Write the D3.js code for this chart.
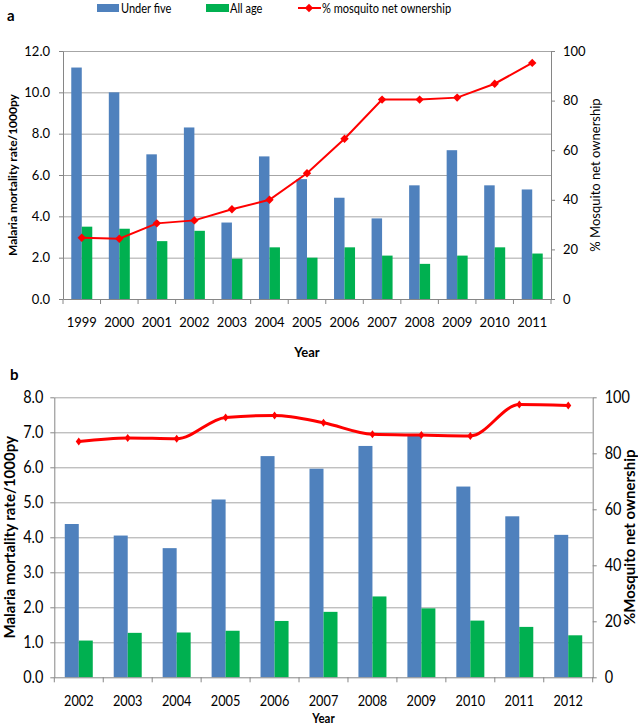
<!DOCTYPE html>
<html><head><meta charset="utf-8">
<script src="https://cdn.jsdelivr.net/npm/d3@7"></script>
<style>
body{margin:0;background:#fff}
svg{display:block}
text{font-family:Lato,"Open Sans",sans-serif;fill:#000}
</style>
</head><body>
<svg id="c" width="638" height="728"></svg>
<script>
// ---- Panel a data ----
const yearsA = ["1999","2000","2001","2002","2003","2004","2005","2006","2007","2008","2009","2010","2011"];
const underFiveA = [11.2,10.0,7.0,8.3,3.7,6.9,5.8,4.9,3.9,5.5,7.2,5.5,5.3];
const allAgeA = [3.5,3.4,2.8,3.3,1.95,2.5,2.0,2.5,2.1,1.7,2.1,2.5,2.2];
const netA = [24.7,24.3,30.5,31.7,36.2,40.0,50.7,64.6,80.4,80.4,81.2,86.8,95.2];
const leftTicksA = [0,2,4,6,8,10,12];
const rightTicksA = [0,20,40,60,80,100];

// ---- Panel b data ----
const yearsB = ["2002","2003","2004","2005","2006","2007","2008","2009","2010","2011","2012"];
const underFiveB = [4.38,4.05,3.69,5.08,6.32,5.96,6.61,6.93,5.45,4.6,4.07];
const allAgeB = [1.05,1.27,1.28,1.33,1.61,1.87,2.31,1.97,1.62,1.44,1.2];
const netB = [84.2,85.5,85.2,92.8,93.5,90.9,86.8,86.5,86.2,97.4,97.1];
const leftTicksB = [0,1,2,3,4,5,6,7,8];
const rightTicksB = [0,20,40,60,80,100];

const legendLabels = ["Under five","All age","% mosquito net ownership"];

const BLUE="#4F81BD", GREEN="#00B050", RED="#FF0000", GRID="#a6a6a6", AXIS="#868686";
const svg = d3.select("#c");

function squeeze(sel, sx){
  sel.each(function(){
    const t=d3.select(this);
    const x=+t.attr("x")||0;
    t.attr("x", x/sx).attr("transform",`scale(${sx},1)`);
  });
}

function panel(o){
  const g = svg.append("g");
  const x = d3.scaleBand().domain(o.years).range([o.left,o.right]).padding(0);
  const y = d3.scaleLinear().domain([0,o.yMax]).range([o.bottom,o.top]);
  const y2 = d3.scaleLinear().domain([0,100]).range([o.bottom,o.top]);
  const bw = o.barW;
  const xc = d => x(d)+x.bandwidth()/2;

  // gridlines
  const grid = g.append("g").attr("transform",`translate(${o.left},0)`)
    .call(d3.axisLeft(y).tickValues(o.leftTicks.filter(v=>v>0)).tickSize(-(o.right-o.left)).tickFormat(""));
  grid.select(".domain").remove();
  grid.selectAll("line").attr("stroke",GRID).attr("stroke-width",1);

  // bars
  g.append("g").selectAll("rect").data(o.years).join("rect")
    .attr("x",d=>xc(d)-bw).attr("width",bw)
    .attr("y",(d,i)=>y(o.under[i])).attr("height",(d,i)=>o.bottom-y(o.under[i]))
    .attr("fill",BLUE);
  g.append("g").selectAll("rect").data(o.years).join("rect")
    .attr("x",d=>xc(d)).attr("width",bw)
    .attr("y",(d,i)=>y(o.all[i])).attr("height",(d,i)=>o.bottom-y(o.all[i]))
    .attr("fill",GREEN);

  // left axis
  const la = g.append("g").attr("transform",`translate(${o.left},0)`)
    .call(d3.axisLeft(y).tickValues(o.leftTicks).tickFormat(d3.format(".1f")).tickSize(4).tickSizeOuter(0).tickPadding(o.lPad));
  la.select(".domain").attr("stroke",AXIS);
  la.selectAll("line").attr("stroke",AXIS);
  la.selectAll("text").attr("font-size",o.fs).attr("font-family","Lato");
  if(o.sx!==1) squeeze(la.selectAll("text"),o.sx);

  // right axis
  const ra = g.append("g").attr("transform",`translate(${o.right},0)`)
    .call(d3.axisRight(y2).tickValues(o.rightTicks).tickFormat(d3.format("d")).tickSize(4).tickSizeOuter(0).tickPadding(o.rPad));
  ra.select(".domain").attr("stroke",AXIS);
  ra.selectAll("line").attr("stroke",AXIS);
  ra.selectAll("text").attr("font-size",o.fs).attr("font-family","Lato");
  if(o.sx!==1) squeeze(ra.selectAll("text"),o.sx);

  // bottom axis
  const ba = g.append("g").attr("transform",`translate(0,${o.bottom})`)
    .call(d3.axisBottom(x).tickSize(0).tickPadding(o.bPad));
  ba.select(".domain").attr("stroke",AXIS);
  ba.selectAll("text").attr("font-size",o.bfs||o.fs).attr("font-family","Lato");
  if(o.sx!==1) squeeze(ba.selectAll("text"),o.sx);
  const bounds = o.years.map(d=>x(d)).concat([x.range()[1]]);
  g.append("g").selectAll("line").data(bounds).join("line")
    .attr("x1",d=>d).attr("x2",d=>d).attr("y1",o.bottom).attr("y2",o.bottom+5)
    .attr("stroke",AXIS);

  // line
  const lineGen = d3.line().x((d,i)=>xc(o.years[i])).y(d=>y2(d)).curve(o.curve);
  g.append("path").datum(o.net).attr("d",lineGen)
    .attr("fill","none").attr("stroke",RED).attr("stroke-width",o.lw);
  g.append("g").selectAll("path").data(o.net).join("path")
    .attr("d",(d,i)=>{const cx=xc(o.years[i]),cy=y2(d);
      return `M${cx},${cy-o.mh}L${cx+o.mw},${cy}L${cx},${cy+o.mh}L${cx-o.mw},${cy}Z`;})
    .attr("fill",RED);

  // titles
  g.append("text").attr("transform",`translate(${o.ltX},${(o.top+o.bottom)/2}) rotate(-90)`)
    .attr("text-anchor","middle").attr("dy","0.35em").attr("font-weight","bold").attr("font-size",o.ltFs)
    .text("Malaria mortality rate/1000py");
  g.append("text").attr("transform",`translate(${o.rtX},${(o.top+o.bottom)/2}) rotate(-90)`)
    .attr("text-anchor","middle").attr("dy","0.35em").attr("font-weight",o.rtW).attr("font-size",o.rtFs)
    .text(o.rtText);
  g.append("text").attr("transform",`translate(${(o.left+o.right)/2},${o.yearY}) scale(${o.sx},1)`)
    .attr("text-anchor","middle").attr("dy","0.35em").attr("font-weight","bold").attr("font-size",o.yearFs)
    .text("Year");
  g.append("text").attr("x",o.labX).attr("y",o.labY).attr("dy","0.35em")
    .attr("font-weight","bold").attr("font-size",15).text(o.label);
}

panel({years:yearsA, under:underFiveA, all:allAgeA, net:netA, leftTicks:leftTicksA, rightTicks:rightTicksA,
  left:63, right:551, top:51, bottom:299, yMax:12, barW:10.5, fs:13, sx:1, lPad:9, rPad:8, bPad:19,
  curve:d3.curveLinear, lw:2, mw:4.2, mh:4.2,
  ltX:13, ltFs:12, rtX:595, rtFs:13, rtW:"normal", rtText:"% Mosquito net ownership",
  yearY:352, yearFs:13, label:"a", labX:7, labY:16});

panel({years:yearsB, under:underFiveB, all:allAgeB, net:netB, leftTicks:leftTicksB, rightTicks:rightTicksB,
  left:54.3, right:592.7, top:397.3, bottom:677.3, yMax:8, barW:14, fs:17, bfs:15, sx:0.85, lPad:7, rPad:8, bPad:18,
  curve:d3.curveMonotoneX, lw:3, mw:3, mh:4,
  ltX:10, ltFs:15, rtX:630, rtFs:15, rtW:"bold", rtText:"%Mosquito net ownership",
  yearY:718.5, yearFs:13.5, label:"b", labX:10, labY:375});

// legend (panel a)
const leg = svg.append("g");
const legFs = 13, legSx = 0.85;
leg.append("rect").attr("x",97).attr("y",4).attr("width",22).attr("height",8).attr("fill",BLUE);
leg.append("rect").attr("x",206).attr("y",4).attr("width",23).attr("height",8).attr("fill",GREEN);
leg.append("line").attr("x1",298).attr("x2",321).attr("y1",8).attr("y2",8).attr("stroke",RED).attr("stroke-width",2);
leg.append("path").attr("d","M309,3.8L313.2,8L309,12.2L304.8,8Z").attr("fill",RED);
[[121,legendLabels[0]],[230,legendLabels[1]],[322,legendLabels[2]]].forEach(([lx,t])=>{
  leg.append("text").attr("transform",`translate(${lx},8) scale(${legSx},1)`).attr("dy","0.35em")
    .attr("font-size",legFs).text(t);
});
</script>
</body></html>
